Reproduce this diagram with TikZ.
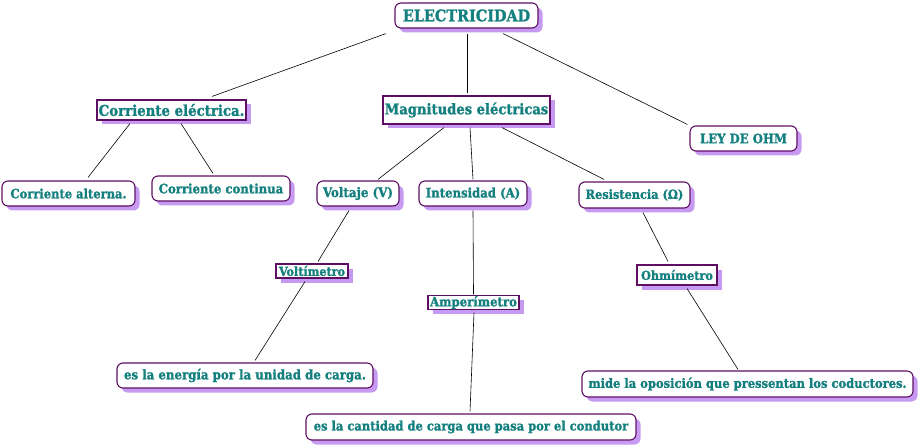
\documentclass[tikz,border=0pt]{standalone}
\usepackage{fontspec}
\newfontfamily\heavy{DejaVu Serif Condensed Bold}[FakeBold=1.3]
\usetikzlibrary{shadows}
\definecolor{tealt}{HTML}{137F7E}
\definecolor{purb}{HTML}{5E0F63}
\definecolor{lav}{HTML}{C79AF2}
\tikzset{
  base/.style={draw=purb, line width=1.1pt, fill=white, text=tealt, inner sep=0pt,
    drop shadow={shadow xshift=4.5pt, shadow yshift=-4.5pt, fill=lav, opacity=1}},
  rbox/.style={base, rounded corners=6pt},
  sbox/.style={base},
  conn/.style={draw=black, line width=0.6pt},
}
\newcommand{\fz}[1]{\heavy\fontsize{#1}{#1}\selectfont}
\begin{document}
\begin{tikzpicture}[x=1pt,y=-1pt]
\useasboundingbox (0,0) rectangle (920,446);
\node[rbox, minimum width=143pt, minimum height=25pt, font=\fz{16}] (elec) at (466.5,15.5) {ELECTRICIDAD};
\node[sbox, minimum width=149pt, minimum height=20pt, font=\fz{14.8}] (ce) at (171.5,110) {Corriente eléctrica.};
\node[sbox, minimum width=167pt, minimum height=28pt, font=\fz{14.6}] (mag) at (466.5,110) {Magnitudes eléctricas};
\node[rbox, minimum width=107pt, minimum height=25pt, font=\fz{13}] (ley) at (743.5,138.5) {LEY DE OHM};
\node[rbox, minimum width=133pt, minimum height=25pt, font=\fz{12.8}] (alt) at (68.5,193.5) {Corriente alterna.};
\node[rbox, minimum width=138pt, minimum height=25pt, font=\fz{13}] (cont) at (221,188.5) {Corriente continua};
\node[rbox, minimum width=82pt, minimum height=25pt, font=\fz{13.2}] (volt) at (358,193.5) {Voltaje (V)};
\node[rbox, minimum width=108pt, minimum height=25pt, font=\fz{13}] (int) at (473,193.5) {Intensidad (A)};
\node[rbox, minimum width=111pt, minimum height=26pt, font=\fz{12.6}] (res) at (634.5,195) {Resistencia (Ω)};
\node[sbox, minimum width=72pt, minimum height=14pt, font=\fz{12.4}] (vm) at (312,271) {Voltímetro};
\node[sbox, minimum width=91pt, minimum height=13pt, font=\fz{13}] (am) at (473.5,302.5) {Amperímetro};
\node[sbox, minimum width=80pt, minimum height=20pt, font=\fz{12.5}] (om) at (677,275) {Ohmímetro};
\node[rbox, minimum width=256pt, minimum height=25pt, font=\fz{13.1}] (en) at (245,375.5) {es la energía por la unidad de carga.};
\node[rbox, minimum width=331pt, minimum height=26pt, font=\fz{12.8}] (mide) at (747.5,384) {mide la oposición que pressentan los coductores.};
\node[rbox, minimum width=330pt, minimum height=26pt, font=\fz{12.8}] (cant) at (471,427) {es la cantidad de carga que pasa por el condutor};
\draw[conn] ([xshift=-80.5pt,yshift=-5pt]elec.south) -- ([xshift=40.5pt,yshift=3pt]ce.north);
\draw[conn] ([xshift=0.5pt,yshift=-5pt]elec.south) -- ([xshift=0.5pt,yshift=2pt]mag.north);
\draw[conn] ([xshift=36.5pt,yshift=-5pt]elec.south) -- ([xshift=-2pt,yshift=1pt]ley.north west);
\draw[conn] ([xshift=-41.5pt,yshift=-3pt]ce.south) -- ([xshift=19.5pt,yshift=3pt]alt.north);
\draw[conn] ([xshift=9.5pt,yshift=-3pt]ce.south) -- ([xshift=-8pt,yshift=2pt]cont.north);
\draw[conn] ([xshift=-22.5pt,yshift=-3pt]mag.south) -- ([xshift=20pt,yshift=1pt]volt.north);
\draw[conn] ([xshift=3.5pt,yshift=-3pt]mag.south) -- ([yshift=1pt]int.north);
\draw[conn] ([xshift=35.5pt,yshift=-3pt]mag.south) -- ([xshift=-30.5pt,yshift=2pt]res.north);
\draw[conn] ([xshift=-9pt,yshift=-4pt]volt.south) -- ([xshift=6pt,yshift=2pt]vm.north);
\draw[conn] ([xshift=-7pt,yshift=-3pt]vm.south) -- ([xshift=10pt,yshift=2pt]en.north);
\draw[conn] ([yshift=-4pt]int.south) -- ([yshift=1pt]am.north);
\draw[conn] ([xshift=0.5pt,yshift=-3pt]am.south) -- ([xshift=-1pt,yshift=2pt]cant.north);
\draw[conn] ([xshift=8.5pt,yshift=-4pt]res.south) -- ([xshift=-9pt,yshift=3pt]om.north);
\draw[conn] ([xshift=10pt,yshift=-3pt]om.south) -- ([xshift=-9.5pt,yshift=1pt]mide.north);
\end{tikzpicture}
\end{document}
